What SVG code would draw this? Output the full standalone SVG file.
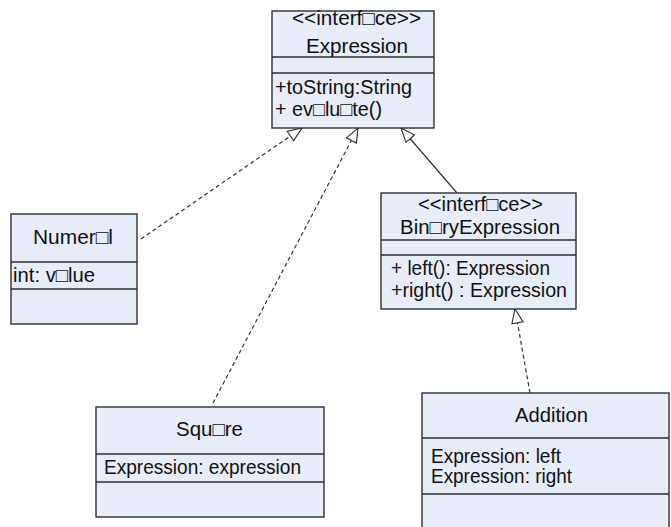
<svg xmlns="http://www.w3.org/2000/svg" width="671" height="527" viewBox="0 0 671 527">
<style>
.box{fill:#e7ecf7;stroke:#2f2f2f;stroke-width:1.4}
.sep{stroke:#2f2f2f;stroke-width:1.4;fill:none}
text{font-family:"Liberation Sans",Arial,sans-serif;font-size:19.5px;fill:#111}
.dash{stroke:#333;stroke-width:1.2;fill:none;stroke-dasharray:4 3}
.solid{stroke:#333;stroke-width:1.2;fill:none}
</style>
<defs>
<marker id="tri" markerUnits="userSpaceOnUse" markerWidth="16" markerHeight="14" viewBox="-1 -1 17 14" refX="15" refY="6" orient="auto">
<path d="M0,0 L15,6 L0,12 Z" fill="#fff" stroke="#333" stroke-width="1.2" stroke-dasharray="none"/>
</marker>
</defs>
<rect width="671" height="527" fill="#fff"/>
<g id="connectors">
<path class="dash" d="M141,239 L302,128" marker-end="url(#tri)"/>
<path class="dash" d="M213,403 L358,128" marker-end="url(#tri)"/>
<path class="solid" d="M457,193 L401,128" marker-end="url(#tri)"/>
<path class="dash" d="M530,393 L515,309" marker-end="url(#tri)"/>
</g>
<g id="expression">
<rect class="box" x="272" y="11" width="162" height="117"/>
<path class="sep" d="M272,57 H434 M272,73 H434"/>
<text x="292" y="25" textLength="129" lengthAdjust="spacingAndGlyphs">&lt;&lt;interf□ce&gt;&gt;</text>
<text x="306" y="53" textLength="102" lengthAdjust="spacingAndGlyphs">Expression</text>
<text x="275" y="94" textLength="137" lengthAdjust="spacingAndGlyphs">+toString:String</text>
<text x="275" y="116" textLength="107" lengthAdjust="spacingAndGlyphs">+ ev□lu□te()</text>
</g>
<g id="numeral">
<rect class="box" x="11" y="214" width="126" height="110"/>
<path class="sep" d="M11,262 H137 M11,289 H137"/>
<text x="33" y="244" textLength="80" lengthAdjust="spacingAndGlyphs">Numer□l</text>
<text x="13" y="282" textLength="82" lengthAdjust="spacingAndGlyphs">int: v□lue</text>
</g>
<g id="binaryexpression">
<rect class="box" x="381" y="193" width="195" height="116"/>
<path class="sep" d="M381,240 H576 M381,255 H576"/>
<text x="418" y="211" textLength="125" lengthAdjust="spacingAndGlyphs">&lt;&lt;interf□ce&gt;&gt;</text>
<text x="400" y="234" textLength="160" lengthAdjust="spacingAndGlyphs">Bin□ryExpression</text>
<text x="391" y="275" textLength="159" lengthAdjust="spacingAndGlyphs">+ left(): Expression</text>
<text x="391" y="297" textLength="176" lengthAdjust="spacingAndGlyphs">+right() : Expression</text>
</g>
<g id="square">
<rect class="box" x="96" y="407" width="228" height="110"/>
<path class="sep" d="M96,454 H324 M96,482 H324"/>
<text x="176" y="436" textLength="67" lengthAdjust="spacingAndGlyphs">Squ□re</text>
<text x="104" y="474" textLength="197" lengthAdjust="spacingAndGlyphs">Expression: expression</text>
</g>
<g id="addition">
<rect class="box" x="422" y="393" width="247" height="150"/>
<path class="sep" d="M422,438 H669 M422,494 H669"/>
<text x="515" y="422" textLength="73" lengthAdjust="spacingAndGlyphs">Addition</text>
<text x="431" y="463" textLength="130" lengthAdjust="spacingAndGlyphs">Expression: left</text>
<text x="431" y="483" textLength="141" lengthAdjust="spacingAndGlyphs">Expression: right</text>
</g>
</svg>
